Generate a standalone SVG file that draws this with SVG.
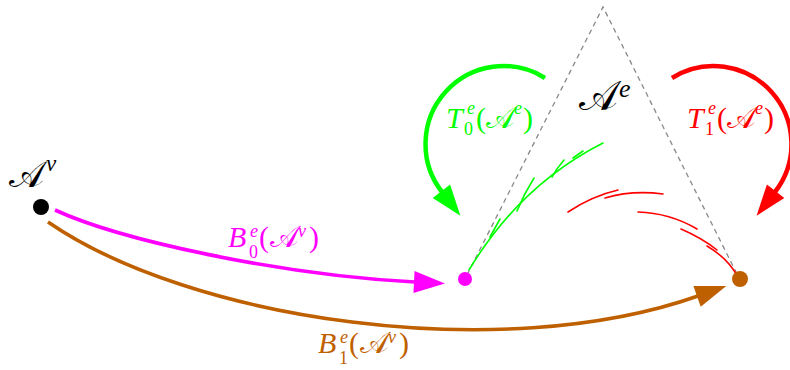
<svg xmlns="http://www.w3.org/2000/svg" width="790" height="370" viewBox="0 0 790 370">
<style>
.t{font-family:"Liberation Serif","DejaVu Serif",serif;}
.i{font-style:italic;}
.big{font-size:30px;}
.cal{font-size:30px;}
.sm{font-size:18px;}
.dash{fill:none;stroke:#888;stroke-width:1.3;stroke-dasharray:5,4;}
.thin{fill:none;stroke-width:1.6;stroke-linecap:round;}
</style>
<defs>
<marker id="ahM" markerUnits="userSpaceOnUse" markerWidth="34" markerHeight="26" refX="1" refY="12" orient="auto" viewBox="0 0 34 24" overflow="visible"><path d="M0,1 L31,12 L0,23 Z" fill="#FF00FF"/></marker>
<marker id="ahB" markerUnits="userSpaceOnUse" markerWidth="34" markerHeight="26" refX="1" refY="12" orient="auto" viewBox="0 0 34 24" overflow="visible"><path d="M0,1 L31,12 L0,23 Z" fill="#BF6000"/></marker>
<marker id="ahG" markerUnits="userSpaceOnUse" markerWidth="34" markerHeight="26" refX="1" refY="12" orient="auto" viewBox="0 0 34 24" overflow="visible"><path d="M0,1 L31,12 L0,23 Z" fill="#00FF00"/></marker>
<marker id="ahR" markerUnits="userSpaceOnUse" markerWidth="34" markerHeight="26" refX="1" refY="12" orient="auto" viewBox="0 0 34 24" overflow="visible"><path d="M0,1 L31,12 L0,23 Z" fill="#FF0000"/></marker>
</defs>

<g id="triangle">
<path class="dash" d="M467,275 L603,7 L738,276"/>
</g>

<g id="connectors">
<path d="M55,210 C120,240 280,275 415,282" fill="none" stroke="#FF00FF" stroke-width="3.6" marker-end="url(#ahM)"/>
<path d="M48,222 C190,320 500,366 698,296" fill="none" stroke="#BF6000" stroke-width="3.6" marker-end="url(#ahB)"/>
<path d="M545,78 A78,78 0 0 0 442,192" fill="none" stroke="#00FF00" stroke-width="4.5" marker-end="url(#ahG)"/>
<path d="M672,78 A78,78 0 0 1 775,192" fill="none" stroke="#FF0000" stroke-width="4.5" marker-end="url(#ahR)"/>
</g>

<g id="sketch-green" stroke="#00FF00">
<path class="thin" d="M469,270 Q520,185 603,143"/>
<path class="thin" d="M490,237 L500,219"/>
<path class="thin" d="M517,211 Q524,194 534,178"/>
<path class="thin" d="M552,177 Q557,168 564,160"/>
<path class="thin" d="M573,158 L583,151"/>
</g>

<g id="sketch-red" stroke="#FF0000">
<path class="thin" d="M568,212 Q592,196 618,190"/>
<path class="thin" d="M605,198 Q632,190 663,194"/>
<path class="thin" d="M638,212 Q670,213 697,229"/>
<path class="thin" d="M681,229 Q702,238 717,250"/>
<path class="thin" d="M707,246 Q726,257 737,275"/>
</g>

<g id="Av">
<circle cx="41" cy="207" r="8" fill="#000"/>
<text class="t" fill="#000"><tspan x="9" y="187" font-size="37">𝒜</tspan><tspan class="i" x="46" y="171" font-size="23">v</tspan></text>
</g>

<g id="B0" class="t" fill="#FF00FF">
<circle cx="465" cy="279" r="7" fill="#FF00FF"/>
<text><tspan class="i big" x="228" y="247">B</tspan><tspan class="i sm" x="250" y="237">e</tspan><tspan class="sm" x="249" y="258">0</tspan><tspan class="big" x="259" y="247">(</tspan><tspan class="cal" x="270" y="247">𝒜</tspan><tspan class="i sm" x="298" y="237">v</tspan><tspan class="big" x="309" y="247">)</tspan></text>
</g>

<g id="B1" class="t" fill="#BF6000">
<circle cx="740" cy="279" r="8" fill="#BF6000"/>
<text><tspan class="i big" x="318" y="353">B</tspan><tspan class="i sm" x="340" y="343">e</tspan><tspan class="sm" x="339" y="364">1</tspan><tspan class="big" x="349" y="353">(</tspan><tspan class="cal" x="360" y="353">𝒜</tspan><tspan class="i sm" x="388" y="343">v</tspan><tspan class="big" x="399" y="353">)</tspan></text>
</g>

<g id="Ae">
<text class="t" fill="#000"><tspan x="579" y="110" font-size="41">𝒜</tspan><tspan class="i" x="619" y="97" font-size="26">e</tspan></text>
</g>

<g id="T0" class="t" fill="#00FF00">
<text><tspan class="i big" x="446" y="128">T</tspan><tspan class="i sm" x="467" y="114">e</tspan><tspan class="sm" x="464" y="135">0</tspan><tspan class="big" x="476" y="128">(</tspan><tspan class="cal" x="486" y="128">𝒜</tspan><tspan class="i sm" x="514" y="114">e</tspan><tspan class="big" x="523" y="128">)</tspan></text>
</g>

<g id="T1" class="t" fill="#FF0000">
<text><tspan class="i big" x="687" y="128">T</tspan><tspan class="i sm" x="708" y="114">e</tspan><tspan class="sm" x="705" y="135">1</tspan><tspan class="big" x="717" y="128">(</tspan><tspan class="cal" x="727" y="128">𝒜</tspan><tspan class="i sm" x="755" y="114">e</tspan><tspan class="big" x="764" y="128">)</tspan></text>
</g>
</svg>
